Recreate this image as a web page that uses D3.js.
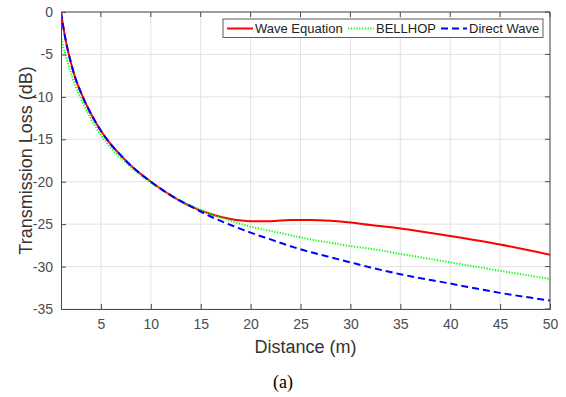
<!DOCTYPE html>
<html>
<head>
<meta charset="utf-8">
<script src="https://cdn.jsdelivr.net/npm/d3@7"></script>
<style>
  body { margin: 0; background: #fff; }
  svg { display: block; font-family: "Liberation Sans", Arial, sans-serif; }
</style>
</head>
<body>
<div id="chart"></div>
<script>
const distances = [1, 1.25, 1.5, 2, 2.5, 3, 4, 5, 6, 7, 8, 10, 12, 14, 16, 18, 20, 22, 24, 26, 28, 30, 32, 35, 40, 45, 50];
const waveEquation = [0, -1.9, -3.5, -6.0, -8.0, -9.5, -12.0, -14.0, -15.6, -16.9, -18.1, -20.0, -21.6, -22.9, -23.8, -24.4, -24.65, -24.65, -24.5, -24.5, -24.6, -24.8, -25.1, -25.5, -26.4, -27.4, -28.6];
const bellhop = [-2.8, -4.2, -5.2, -7.2, -8.9, -10.2, -12.6, -14.5, -16.0, -17.2, -18.3, -20.1, -21.6, -22.8, -23.8, -24.6, -25.3, -25.8, -26.3, -26.8, -27.2, -27.6, -27.9, -28.5, -29.5, -30.5, -31.45];
const directWave = [0, -1.9, -3.5, -6.0, -8.0, -9.5, -12.0, -14.0, -15.6, -16.9, -18.1, -20.0, -21.6, -22.9, -24.1, -25.1, -26.0, -26.8, -27.6, -28.3, -28.9, -29.5, -30.1, -30.9, -32.0, -33.1, -34.0];

const xTicks = [5, 10, 15, 20, 25, 30, 35, 40, 45, 50];
const yTicks = [0, -5, -10, -15, -20, -25, -30, -35];

const series = [
  { name: 'Wave Equation', values: waveEquation, color: '#ff0000', dash: null },
  { name: 'BELLHOP', values: bellhop, color: '#00ff00', dash: '1.2,1.6' },
  { name: 'Direct Wave', values: directWave, color: '#0000ff', dash: '7,4' }
];

const width = 566, height = 397;
const margin = { top: 12, right: 16, bottom: 88, left: 61 };
const innerW = width - margin.left - margin.right;
const innerH = height - margin.top - margin.bottom;

const svg = d3.select('#chart').append('svg')
  .attr('width', width)
  .attr('height', height);

const g = svg.append('g').attr('transform', `translate(${margin.left},${margin.top})`);

const x = d3.scaleLinear().domain([1, 50]).range([0, innerW]);
const y = d3.scaleLinear().domain([-35, 0]).range([innerH, 0]);

// grid
g.append('g').selectAll('line').data(xTicks).join('line')
  .attr('x1', d => x(d)).attr('x2', d => x(d))
  .attr('y1', 0).attr('y2', innerH)
  .attr('stroke', '#e3e3e3').attr('stroke-width', 1);
g.append('g').selectAll('line').data(yTicks).join('line')
  .attr('x1', 0).attr('x2', innerW)
  .attr('y1', d => y(d)).attr('y2', d => y(d))
  .attr('stroke', '#e3e3e3').attr('stroke-width', 1);

// lines
g.append('clipPath').attr('id', 'clip')
  .append('rect').attr('width', innerW).attr('height', innerH);

const line = d3.line()
  .x(d => x(d[0]))
  .y(d => y(d[1]))
  .curve(d3.curveMonotoneX);

series.forEach(s => {
  g.append('path')
    .datum(distances.map((d, i) => [d, s.values[i]]))
    .attr('clip-path', 'url(#clip)')
    .attr('fill', 'none')
    .attr('stroke', s.color)
    .attr('stroke-width', 2)
    .attr('stroke-dasharray', s.dash)
    .attr('d', line);
});

// axes (ticks inside, MATLAB style)
const axisColor = '#4a4a4a';
const plain = d => String(d); // keep the plain hyphen minus like the original
const xAxis = g.append('g').attr('transform', `translate(0,${innerH})`)
  .call(d3.axisBottom(x).tickValues(xTicks).tickFormat(plain).tickSize(-5).tickPadding(10));
const yAxis = g.append('g')
  .call(d3.axisLeft(y).tickValues(yTicks).tickFormat(plain).tickSize(-5).tickPadding(8));
[xAxis, yAxis].forEach(a => {
  a.select('.domain').attr('stroke', axisColor);
  a.selectAll('.tick line').attr('stroke', axisColor);
  a.selectAll('.tick text').attr('fill', '#4d4d4d').style('font-size', '14px')
    .style('font-family', '"Liberation Sans", Arial, sans-serif');
});
// top and right box edges
g.append('line').attr('x1', 0).attr('x2', innerW).attr('y1', 0).attr('y2', 0).attr('stroke', axisColor);
g.append('line').attr('x1', innerW).attr('x2', innerW).attr('y1', 0).attr('y2', innerH).attr('stroke', axisColor);
g.append('g').selectAll('line').data(xTicks).join('line')
  .attr('x1', d => x(d)).attr('x2', d => x(d)).attr('y1', 0).attr('y2', 5).attr('stroke', axisColor);
g.append('g').selectAll('line').data(yTicks).join('line')
  .attr('x1', innerW - 5).attr('x2', innerW).attr('y1', d => y(d)).attr('y2', d => y(d)).attr('stroke', axisColor);

// axis labels
svg.append('text')
  .attr('x', margin.left + innerW / 2).attr('y', 353)
  .attr('text-anchor', 'middle')
  .style('font-size', '18px').attr('fill', '#333')
  .text('Distance (m)');
svg.append('text')
  .attr('transform', `translate(32,${margin.top + innerH / 2}) rotate(-90)`)
  .attr('text-anchor', 'middle')
  .style('font-size', '18px').attr('fill', '#333')
  .text('Transmission Loss (dB)');

// caption
svg.append('text')
  .attr('x', 283).attr('y', 388)
  .attr('text-anchor', 'middle')
  .style('font-family', '"Liberation Serif", "Times New Roman", serif')
  .style('font-size', '18px').attr('fill', '#000')
  .text('(a)');

// legend
const legend = svg.append('g').attr('transform', 'translate(223,19)');
legend.append('rect')
  .attr('width', 320).attr('height', 18.5)
  .attr('fill', '#fff').attr('stroke', '#333').attr('stroke-width', 0.8);
const legendX = [4, 125, 218];
series.forEach((s, i) => {
  const item = legend.append('g').attr('transform', `translate(${legendX[i]},9.5)`);
  item.append('line')
    .attr('x1', 0).attr('x2', 26).attr('y1', 0).attr('y2', 0)
    .attr('stroke', s.color).attr('stroke-width', 2)
    .attr('stroke-dasharray', s.dash);
  item.append('text')
    .attr('x', 28).attr('y', 4.5)
    .style('font-size', '13px').attr('fill', '#222')
    .text(s.name);
});
</script>
</body>
</html>
